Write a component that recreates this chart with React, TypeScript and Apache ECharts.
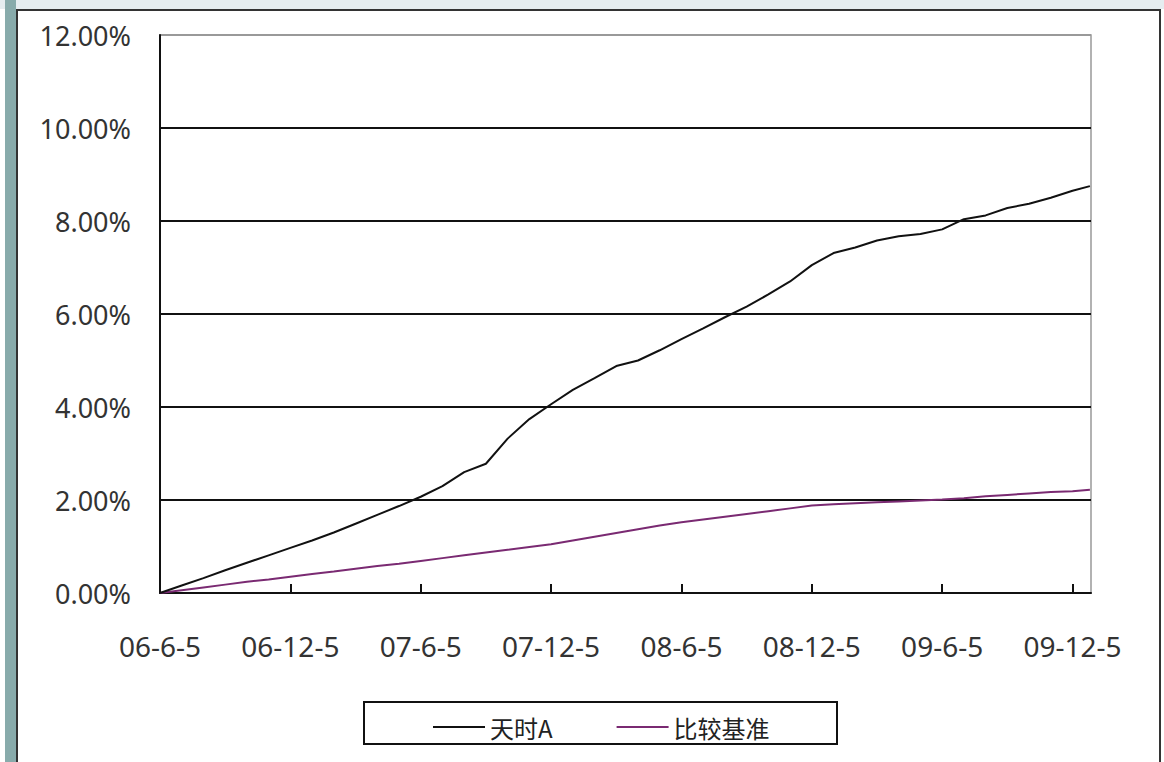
import React, { useEffect, useRef } from "react";
import * as echarts from "echarts";

const tickLabels = ["06-6-5", "06-12-5", "07-6-5", "07-12-5", "08-6-5", "08-12-5", "09-6-5", "09-12-5"];
const tickMonths = [0, 6, 12, 18, 24, 30, 36, 42];

// months since 06-6-5
const monthX = [
  0, 1, 2, 3, 4, 5, 6, 7, 8, 9, 10, 11, 12, 13, 14, 15, 16, 17, 18, 19, 20, 21,
  22, 23, 24, 25, 26, 27, 28, 29, 30, 31, 32, 33, 34, 35, 36, 37, 38, 39, 40, 41, 42, 42.8,
];

// 天时A cumulative return (%)
const fundA = [
  0, 0.16, 0.32, 0.49, 0.65, 0.81, 0.97, 1.13, 1.3, 1.49, 1.68, 1.87, 2.07, 2.3, 2.6, 2.78,
  3.32, 3.74, 4.06, 4.37, 4.62, 4.88, 5.0, 5.22, 5.46, 5.69, 5.93, 6.16, 6.42, 6.7, 7.05,
  7.31, 7.43, 7.58, 7.67, 7.72, 7.82, 8.04, 8.12, 8.28, 8.37, 8.5, 8.65, 8.75,
];

// 比较基准 cumulative return (%)
const benchmark = [
  0, 0.06, 0.12, 0.18, 0.24, 0.29, 0.35, 0.41, 0.46, 0.52, 0.58, 0.63, 0.69, 0.75, 0.81,
  0.87, 0.93, 0.99, 1.05, 1.13, 1.21, 1.29, 1.37, 1.45, 1.52, 1.58, 1.64, 1.7, 1.76, 1.82,
  1.88, 1.91, 1.93, 1.95, 1.97, 1.99, 2.01, 2.04, 2.08, 2.11, 2.14, 2.17, 2.19, 2.22,
];

const seriesNames = ["天时A", "比较基准"];

export default function App() {
  const ref = useRef<HTMLDivElement>(null);
  useEffect(() => {
    document.body.style.margin = "0";
    if (!ref.current) return;
    const chart = echarts.init(ref.current, null, { renderer: "svg" });
    const labelFont = "'Noto Sans', 'Open Sans', sans-serif";
    chart.setOption({
      animation: false,
      backgroundColor: "#ffffff",
      graphic: [
        { type: "rect", shape: { x: 0, y: 0, width: 1164, height: 9 }, style: { fill: "#e6edf0" }, silent: true },
        { type: "rect", shape: { x: 5, y: 0, width: 11, height: 762 }, style: { fill: "#88abab" }, silent: true },
        {
          type: "rect",
          shape: { x: 17, y: 10, width: 1143, height: 770 },
          style: { fill: "none", stroke: "#333", lineWidth: 2 },
          silent: true,
        },
        {
          type: "rect",
          shape: { x: 364, y: 702, width: 473, height: 42 },
          style: { fill: "none", stroke: "#111", lineWidth: 2 },
          silent: true,
        },
      ],
      grid: {
        left: 160,
        right: 73,
        top: 35,
        bottom: 169,
        show: true,
        borderColor: "#999",
        borderWidth: 1.5,
        backgroundColor: "transparent",
      },
      legend: {
        left: 428,
        top: 710,
        icon: "rect",
        itemWidth: 52,
        itemHeight: 2,
        itemGap: 64,
        textStyle: { fontSize: 24, color: "#222", fontFamily: "'Noto Sans CJK SC', sans-serif", padding: [0, 0, 0, 0] },
        data: seriesNames,
      },
      xAxis: {
        type: "value",
        min: 0,
        max: 42.85,
        interval: 6,
        axisLine: { show: true, lineStyle: { color: "#111", width: 2 } },
        axisTick: {
          show: true,
          inside: true,
          length: 9,
          customValues: tickMonths,
          lineStyle: { color: "#111", width: 2 },
        },
        axisLabel: {
          customValues: tickMonths,
          margin: 39,
          fontSize: 28,
          color: "#333",
          fontFamily: labelFont,
          formatter: (v: number) => tickLabels[Math.round(v / 6)] ?? "",
        },
        splitLine: { show: false },
      },
      yAxis: {
        type: "value",
        min: 0,
        max: 12,
        interval: 2,
        axisLine: { show: true, lineStyle: { color: "#111", width: 2 } },
        axisTick: { show: false },
        axisLabel: {
          margin: 29,
          fontSize: 27,
          color: "#333",
          fontFamily: labelFont,
          formatter: (v: number) => v.toFixed(2) + "%",
        },
        splitLine: {
          show: true,
          lineStyle: {
            color: ["#111", "#111", "#111", "#111", "#111", "#111", "#999"],
            width: 2,
          },
        },
      },
      series: [
        {
          name: seriesNames[0],
          type: "line",
          symbol: "none",
          data: monthX.map((m, i) => [m, fundA[i]]),
          lineStyle: { color: "#111", width: 2 },
          itemStyle: { color: "#111" },
          z: 3,
        },
        {
          name: seriesNames[1],
          type: "line",
          symbol: "none",
          data: monthX.map((m, i) => [m, benchmark[i]]),
          lineStyle: { color: "#7a2a72", width: 2 },
          itemStyle: { color: "#7a2a72" },
          z: 2,
        },
      ],
    });
    return () => chart.dispose();
  }, []);
  return <div ref={ref} style={{ width: 1164, height: 762 }} />;
}
